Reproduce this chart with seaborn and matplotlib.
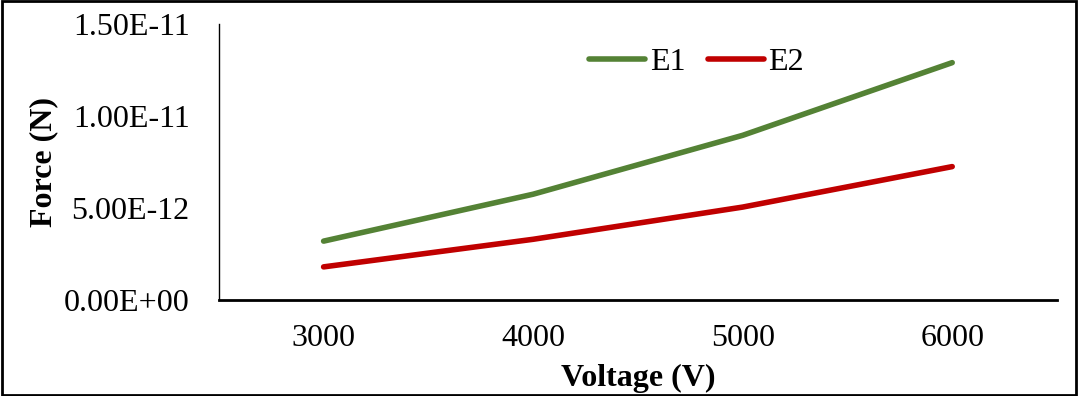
import pandas as pd
import seaborn as sns
import matplotlib.pyplot as plt
from matplotlib.ticker import FuncFormatter

# Values
voltages = ["3000", "4000", "5000", "6000"]
force_e1 = [3.2e-12, 5.75e-12, 8.95e-12, 1.29e-11]
force_e2 = [1.8e-12, 3.3e-12, 5.05e-12, 7.25e-12]
series_names = ["E1", "E2"]
y_ticks = [0, 5e-12, 1e-11, 1.5e-11]

df = pd.DataFrame({
    "Voltage": voltages * 2,
    "Force": force_e1 + force_e2,
    "Series": [series_names[0]] * 4 + [series_names[1]] * 4,
})

sns.set_style("white")
plt.rcParams["font.family"] = ["Liberation Serif", "DejaVu Serif"]
plt.rcParams["font.size"] = 23
plt.rcParams["text.color"] = "black"
plt.rcParams["axes.labelcolor"] = "black"

fig = plt.figure(figsize=(10.78, 3.96), dpi=100)
ax = fig.add_axes([0.203, 0.2424, 0.7775, 0.697])

sns.lineplot(data=df, x="Voltage", y="Force", hue="Series",
             palette={"E1": "#548235", "E2": "#C00000"},
             linewidth=4.0, solid_capstyle="round", ax=ax)

ax.set_xlim(-0.5, 3.5)
ax.set_ylim(0, 1.5e-11)
ax.set_yticks(y_ticks)
ax.yaxis.set_major_formatter(FuncFormatter(lambda v, p: f"{v:.2E}"))

for side in ["top", "right"]:
    ax.spines[side].set_visible(False)
ax.spines["left"].set_color("black")
ax.spines["left"].set_linewidth(1.0)
ax.spines["bottom"].set_color("black")
ax.spines["bottom"].set_linewidth(2.0)
ax.tick_params(axis="both", length=0, labelsize=23, colors="black")
ax.tick_params(axis="y", pad=21)
ax.tick_params(axis="x", pad=17)

ax.set_xlabel("Voltage (V)", fontsize=23, fontweight="bold", labelpad=8)
ax.set_ylabel("Force (N)", fontsize=23, fontweight="bold", labelpad=4)

ax.legend(title=None, frameon=False, ncol=2, loc="center left",
          bbox_to_anchor=(0.442, 0.862), handlelength=1.75,
          handletextpad=0.15, columnspacing=0.7, fontsize=23,
          borderpad=0, borderaxespad=0)

# Outer border around the whole chart
fig.patches.append(plt.Rectangle((0.002, 0.003), 0.996, 0.994, transform=fig.transFigure,
                                 fill=False, edgecolor="black", linewidth=2))

fig.savefig("out.png", dpi=100)
